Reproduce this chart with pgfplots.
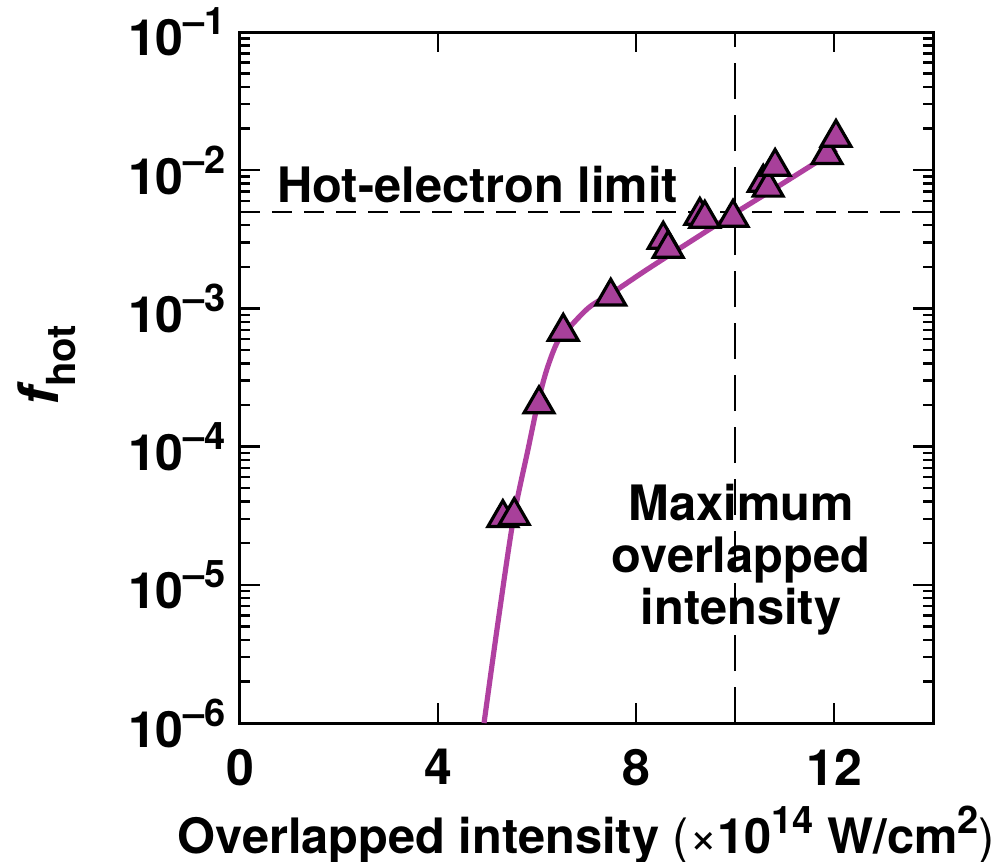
\documentclass[border=0pt]{standalone}
\usepackage{fontspec}
\setmainfont{TeX Gyre Heros}
\usepackage{pgfplots}
\pgfplotsset{compat=1.18}
\definecolor{curvemag}{HTML}{B040A0}
\definecolor{markfill}{HTML}{A8409A}
\newcommand{\tl}[1]{10\raisebox{0.42em}{\fontsize{9.5}{10}\selectfont –#1}}
\begin{document}
\begin{tikzpicture}
\useasboundingbox (-60pt,-34.5pt) rectangle (188.25pt,180.75pt);
\begin{axis}[
 at={(0,0)}, anchor=south west,
 scale only axis, width=173.25pt, height=172.75pt,
 xmin=0, xmax=14, ymin=1e-6, ymax=1e-1, ymode=log,
 xtick={0,4,8,12}, xticklabels={0,4,8,12},
 ytick={1e-6,1e-5,1e-4,1e-3,1e-2,1e-1},
 yticklabels={\tl{6},\tl{5},\tl{4},\tl{3},\tl{2},\tl{1}},
 tick align=inside,
 major tick length=5pt, minor tick length=2.5pt,
 every tick/.style={black, line width=0.6pt},
 axis line style={line width=0.75pt},
 ticklabel style={font=\bfseries\fontsize{12.5}{14}\selectfont},
 xticklabel style={yshift=-3pt},
 xlabel={\bfseries Overlapped intensity {\mdseries(×}10\raisebox{0.42em}{\fontsize{9.5}{10}\selectfont 14} W/cm\raisebox{0.42em}{\fontsize{9.5}{10}\selectfont 2}{\mdseries)}},
 xlabel style={font=\fontsize{12.2}{14}\selectfont, at={(axis description cs:0.5,0)}, anchor=center, yshift=-28pt},
 ylabel={{\bfseries\itshape f}\raisebox{-0.3em}{\bfseries\fontsize{10}{12}\selectfont hot}},
 ylabel style={font=\fontsize{14}{16}\selectfont, at={(axis description cs:-0.2785,0.518)}, anchor=center, rotate=0},
]
\addplot[black, dash pattern=on 5pt off 3pt, line width=0.6pt] coordinates {(0,5e-3) (14,5e-3)};
\addplot[black, dash pattern=on 9pt off 4pt, line width=0.6pt] coordinates {(10,1e-6) (10,1e-1)};
\addplot[curvemag, line width=1.3pt, smooth, no marks] coordinates {
(4.93,1e-6) (5.22,5.62e-6) (5.52,2.95e-5) (5.82,9.6e-5) (6.02,2.09e-4) (6.2,3.63e-4)
(6.42,5.78e-4) (6.71,7.66e-4) (7.07,1.03e-3) (7.54,1.31e-3) (8.22,1.91e-3) (9.3,3.39e-3)
(10.0,4.9e-3) (10.9,7.76e-3) (12.05,1.41e-2)};
\addplot[only marks, mark=triangle*, mark size=4.3pt, mark options={fill=markfill, draw=black, line width=0.8pt}] coordinates {
(5.31,3.05e-5) (5.54,3.16e-5) (6.04,2.03e-4) (6.53,6.8e-4) (7.49,1.22e-3)
(8.55,3.15e-3) (8.65,2.71e-3) (9.29,4.69e-3) (9.39,4.47e-3) (9.96,4.54e-3)
(10.57,8.13e-3) (10.67,7.5e-3) (10.81,1.06e-2) (11.86,1.29e-2) (12.04,1.72e-2)};
\node[font=\bfseries\fontsize{12.2}{14}\selectfont] at (axis description cs:0.343,0.779) {Hot-electron limit};
\node[font=\bfseries\fontsize{12.2}{13}\selectfont, align=center] at (axis description cs:0.723,0.236) {Maximum\\overlapped\\intensity};
\end{axis}
\end{tikzpicture}
\end{document}
